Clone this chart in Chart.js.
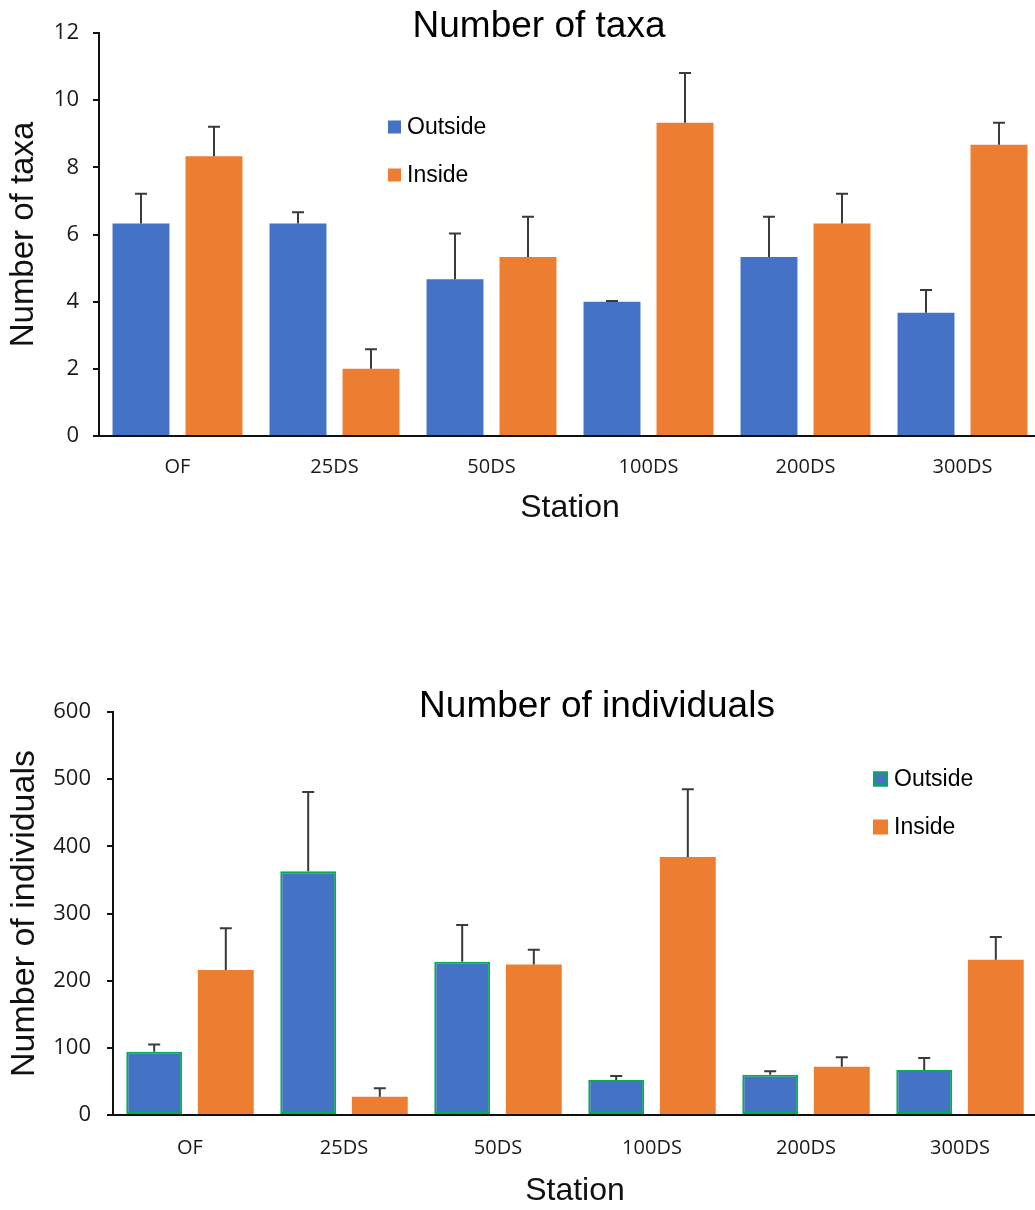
<!DOCTYPE html>
<html>
<head>
<meta charset="utf-8">
<script src="https://cdn.jsdelivr.net/npm/chart.js@4.4.1/dist/chart.umd.min.js"></script>
<style>
  html, body { margin: 0; padding: 0; background: #fff; overflow: hidden; }
  .box { position: absolute; left: 0; }
  #top { top: 0; height: 540px; width: 1041px; }
  #bottom { top: 600px; height: 610px; width: 1037px; }
</style>
</head>
<body>
<div class="box" id="top"><canvas id="taxaChart" width="1041" height="540"></canvas></div>
<div class="box" id="bottom"><canvas id="indChart" width="1037" height="610"></canvas></div>
<script>
const stations = ['OF', '25DS', '50DS', '100DS', '200DS', '300DS'];
const seriesNames = ['Outside', 'Inside'];

// number of taxa
const taxaOutside = [6.33, 6.33, 4.67, 4.0, 5.33, 3.67];
const taxaOutsideErr = [0.88, 0.33, 1.36, 0.02, 1.2, 0.68];
const taxaInside = [8.33, 2.0, 5.33, 9.33, 6.33, 8.67];
const taxaInsideErr = [0.88, 0.58, 1.2, 1.48, 0.88, 0.66];

// number of individuals
const indOutside = [94, 363, 228, 52, 60, 67];
const indOutsideErr = [11, 118, 55, 6, 5, 18];
const indInside = [216, 27, 224, 384, 72, 231];
const indInsideErr = [62, 13, 22, 101, 14, 34];

const blue = '#4472C4';
const orange = '#ED7D31';
const tickFont = { family: 'Open Sans', size: 22 };
const xTickFont = { family: 'Open Sans', size: 20 };

// draws the upper half of the error bars
const errorBars = {
  id: 'errorBars',
  afterDatasetsDraw(chart) {
    const ctx = chart.ctx;
    const yScale = chart.scales.y;
    ctx.save();
    ctx.strokeStyle = '#3a3a3a';
    ctx.lineWidth = 2;
    chart.data.datasets.forEach((ds, di) => {
      if (!ds.errors) return;
      const meta = chart.getDatasetMeta(di);
      meta.data.forEach((bar, i) => {
        const top = yScale.getPixelForValue(ds.data[i] + ds.errors[i]);
        ctx.beginPath();
        ctx.moveTo(bar.x, bar.y);
        ctx.lineTo(bar.x, top);
        ctx.moveTo(bar.x - 6, top);
        ctx.lineTo(bar.x + 6, top);
        ctx.stroke();
      });
    });
    ctx.restore();
  }
};

// title and legend drawn inside the plot like the spreadsheet version
const overlay = {
  id: 'overlay',
  afterDraw(chart, args, opts) {
    const ctx = chart.ctx;
    ctx.save();
    ctx.fillStyle = '#000';
    ctx.font = '37px "Liberation Sans", Arial, sans-serif';
    ctx.textAlign = 'center';
    ctx.textBaseline = 'alphabetic';
    ctx.fillText(opts.title, opts.titleX, opts.titleY);

    ctx.font = '23px "Liberation Sans", Arial, sans-serif';
    ctx.textAlign = 'left';
    ctx.textBaseline = 'middle';
    chart.data.datasets.forEach((ds, i) => {
      const y = opts.legendY + i * opts.legendGap;
      const s = opts.box;
      ctx.fillStyle = ds.backgroundColor;
      ctx.fillRect(opts.legendX, y - s / 2, s, s);
      if (ds.borderWidth) {
        ctx.strokeStyle = ds.borderColor;
        ctx.lineWidth = 2;
        ctx.strokeRect(opts.legendX + 1, y - s / 2 + 1, s - 2, s - 2);
      }
      ctx.fillStyle = '#000';
      ctx.fillText(ds.label, opts.legendX + s + 6, y + 1);
    });
    ctx.restore();
  }
};

function makeChart(id, cfg) {
  return new Chart(document.getElementById(id), {
    type: 'bar',
    data: {
      labels: stations,
      datasets: [
        {
          label: seriesNames[0],
          data: cfg.outside,
          errors: cfg.outsideErr,
          backgroundColor: blue,
          borderColor: '#00B050',
          borderWidth: cfg.greenEdge ? 2 : 0,
          borderSkipped: false,
          categoryPercentage: 0.93,
          barPercentage: 0.78,
        },
        {
          label: seriesNames[1],
          data: cfg.inside,
          errors: cfg.insideErr,
          backgroundColor: orange,
          borderWidth: 0,
          categoryPercentage: 0.93,
          barPercentage: 0.78,
        },
      ],
    },
    options: {
      responsive: false,
      animation: false,
      layout: { padding: { top: cfg.padTop, right: 0, left: 0, bottom: 0 } },
      plugins: {
        legend: { display: false },
        tooltip: { enabled: false },
        overlay: cfg.overlay,
      },
      scales: {
        x: {
          grid: { display: true, drawOnChartArea: false, drawTicks: false },
          border: { display: true, color: '#111', width: 2 },
          ticks: { color: '#1a1a1a', font: xTickFont, padding: cfg.xPad },
          title: {
            display: true,
            text: 'Station',
            color: '#111',
            font: { family: 'Liberation Sans', size: 32 },
            padding: { top: 0, bottom: cfg.xTitlePad },
          },
          afterFit: (s) => { s.height = cfg.xHeight; },
        },
        y: {
          min: 0,
          max: cfg.max,
          ticks: { stepSize: cfg.step, color: '#1a1a1a', font: tickFont, padding: cfg.yPad },
          grid: { display: true, drawOnChartArea: false, drawTicks: true, tickLength: 6, color: '#111', lineWidth: 2 },
          border: { display: true, color: '#111', width: 2 },
          title: {
            display: true,
            text: cfg.yTitle,
            color: '#111',
            font: { family: 'Liberation Sans', size: cfg.yTitleSize },
            padding: { top: 4, bottom: 0 },
          },
          afterFit: (s) => { s.width = cfg.yWidth; },
        },
      },
    },
    plugins: [errorBars, overlay],
  });
}

makeChart('taxaChart', {
  outside: taxaOutside, outsideErr: taxaOutsideErr,
  inside: taxaInside, insideErr: taxaInsideErr,
  greenEdge: false,
  max: 12, step: 2,
  yTitle: 'Number of taxa', yTitleSize: 33,
  padTop: 33, xHeight: 104, yWidth: 99,
  xPad: 19, yPad: 14, xTitlePad: 13,
  overlay: { title: 'Number of taxa', titleX: 539, titleY: 37, legendX: 388, legendY: 127, legendGap: 48, box: 13 },
});

makeChart('indChart', {
  outside: indOutside, outsideErr: indOutsideErr,
  inside: indInside, insideErr: indInsideErr,
  greenEdge: true,
  max: 600, step: 100,
  yTitle: 'Number of individuals', yTitleSize: 34,
  padTop: 112, xHeight: 95, yWidth: 113,
  xPad: 21, yPad: 16, xTitlePad: 0,
  overlay: { title: 'Number of individuals', titleX: 597, titleY: 117, legendX: 873, legendY: 179, legendGap: 48, box: 15 },
});
</script>
</body>
</html>
